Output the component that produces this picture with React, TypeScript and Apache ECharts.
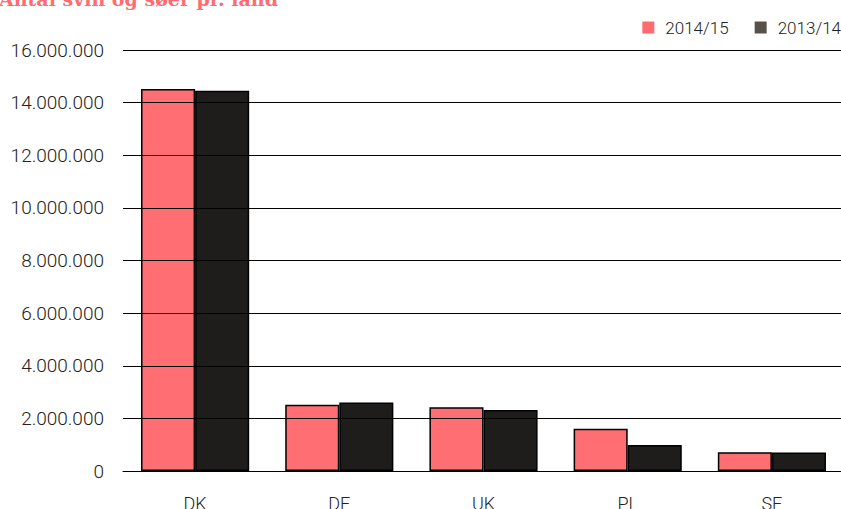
import React, { useEffect, useRef } from "react";
import * as echarts from "echarts";

const categories = ["DK", "DE", "UK", "PL", "SE"];
const series2014_15 = [14520000, 2520000, 2420000, 1610000, 710000];
const series2013_14 = [14450000, 2600000, 2320000, 990000, 700000];
const seriesNames = ["2014/15", "2013/14"];
const titleText = "Antal svin og søer pr. land";

const fmt = (v: number) => {
  const s = Math.round(v).toString();
  return s.replace(/\B(?=(\d{3})+(?!\d))/g, ".");
};

export default function App() {
  const ref = useRef<HTMLDivElement>(null);
  useEffect(() => {
    if (!ref.current) return;
    const chart = echarts.init(ref.current, undefined, { renderer: "svg" });
    const font = "Roboto, 'Open Sans', sans-serif";
    chart.setOption({
      animation: false,
      graphic: [
        {
          type: "text",
          left: -1,
          top: -11,
          style: {
            text: titleText,
            fill: "#ff6b70",
            font: "bold 19px 'DejaVu Serif', serif",
          },
        },
      ],
      legend: {
        right: -5,
        top: 14,
        itemWidth: 12,
        itemHeight: 12,
        itemGap: 26,
        icon: "rect",
        data: [
          { name: seriesNames[0], itemStyle: { color: "#ff6b70", borderWidth: 0 } },
          { name: seriesNames[1], itemStyle: { color: "#57504b", borderWidth: 0 } },
        ],
        textStyle: {
          fontFamily: font,
          fontSize: 17,
          fontWeight: 300,
          color: "#222",
          padding: [0, 0, 0, 6],
        },
      },
      grid: {
        left: 123,
        right: -3,
        top: 50,
        bottom: 38,
        containLabel: false,
        outerBoundsMode: "none",
      },
      xAxis: {
        type: "category",
        data: categories,
        axisLine: { lineStyle: { color: "#000", width: 1 } },
        axisTick: { show: false },
        axisLabel: {
          margin: 23,
          fontFamily: font,
          fontSize: 18,
          fontWeight: 300,
          color: "#222",
        },
      },
      yAxis: {
        type: "value",
        min: 0,
        max: 16000000,
        interval: 2000000,
        z: 5,
        axisLine: { show: false },
        axisTick: { show: false },
        splitLine: { lineStyle: { color: "#000", width: 1 } },
        axisLabel: {
          margin: 19,
          fontFamily: font,
          fontSize: 19,
          fontWeight: 300,
          color: "#222",
          formatter: (v: number) => fmt(v),
        },
      },
      series: [
        {
          name: seriesNames[0],
          type: "bar",
          data: series2014_15,
          barGap: "0%",
          barCategoryGap: "25%",
          itemStyle: { color: "#ff6e72", borderColor: "#000", borderWidth: 1.5 },
        },
        {
          name: seriesNames[1],
          type: "bar",
          data: series2013_14,
          barGap: "0%",
          barCategoryGap: "25%",
          itemStyle: { color: "#1f1c1c", borderColor: "#000", borderWidth: 1.5 },
        },
      ],
    });
    return () => chart.dispose();
  }, []);
  return <div ref={ref} style={{ width: 841, height: 509, position: "absolute", left: 0, top: 0 }} />;
}
